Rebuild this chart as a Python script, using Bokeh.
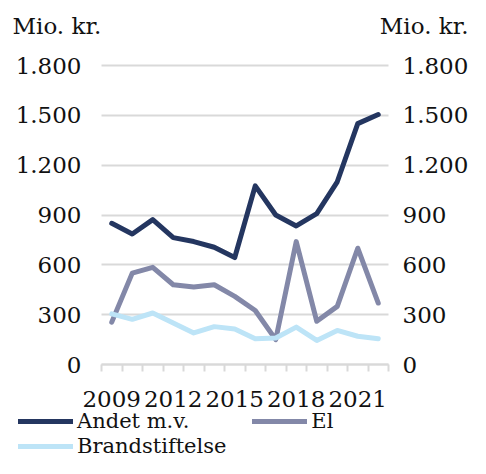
from bokeh.plotting import figure
from bokeh.models import (Range1d, LinearAxis, FixedTicker, Legend, LegendItem, Label, Grid)
from bokeh.embed import file_html
from bokeh.resources import INLINE

years = [2009, 2010, 2011, 2012, 2013, 2014, 2015, 2016, 2017, 2018, 2019, 2020, 2021, 2022]
andet = [850, 786, 872, 764, 740, 706, 644, 1075, 900, 834, 908, 1100, 1450, 1505]
el = [255, 550, 585, 480, 466, 480, 410, 325, 150, 740, 260, 350, 700, 370]
brand = [305, 272, 310, 250, 190, 228, 214, 155, 160, 225, 145, 205, 170, 155]

x_tick_years = [2009, 2012, 2015, 2018, 2021]
y_ticks = [0, 300, 600, 900, 1200, 1500, 1800]
y_tick_labels = ["0", "300", "600", "900", "1.200", "1.500", "1.800"]
unit_label = "Mio. kr."
series_names = ["Andet m.v.", "El", "Brandstiftelse"]
series_colors = ["#243660", "#8388a8", "#bde4f7"]

GRID = "#d9d9d9"
TXT = "#111111"
FONT = "DejaVu Serif"
FS = "23px"
LFS = "21px"

# ---- pixel plan of the canvas (layout only)
W, H = 470, 458
AREA_L, AREA_R = 101, 388      # horizontal extent of the category area
AREA_T, AREA_B = 65, 364       # pixel rows of y = max tick and y = 0

x_lo, x_hi = years[0] - 0.5, years[-1] + 0.5
ppx = (AREA_R - AREA_L) / (x_hi - x_lo)
y_lo, y_hi = y_ticks[0], y_ticks[-1]
ppy = (AREA_B - AREA_T) / (y_hi - y_lo)

x_range = Range1d(x_lo - AREA_L / ppx, x_hi + (W - AREA_R) / ppx)
y_range = Range1d(y_lo - (H - AREA_B) / ppy, y_hi + AREA_T / ppy)

p = figure(width=W, height=H, output_backend="svg", toolbar_location=None,
           x_range=x_range, y_range=y_range,
           x_axis_location=None, y_axis_location=None, title_location=None,
           min_border=0, min_border_left=0, min_border_right=0,
           min_border_top=0, min_border_bottom=0)
p.outline_line_color = None
for g in p.grid:
    g.visible = False

yticker = FixedTicker(ticks=y_ticks)
overrides = {t: l for t, l in zip(y_ticks, y_tick_labels)}

grid_kw = dict(dimension=1, ticker=yticker, grid_line_color=GRID, grid_line_width=2)
if "cross_bounds" in Grid.properties():
    grid_kw["cross_bounds"] = (x_lo, x_hi)
p.add_layout(Grid(**grid_kw), "center")


def y_axis(loc, standoff):
    ax = LinearAxis(fixed_location=loc, ticker=yticker, major_label_overrides=overrides,
                    axis_line_color=None, major_tick_line_color=None, minor_tick_line_color=None,
                    major_tick_out=0, major_tick_in=0, major_label_standoff=standoff,
                    major_label_text_font=FONT, major_label_text_font_size=FS,
                    major_label_text_color=TXT, bounds=(y_lo, y_hi))
    return ax

p.add_layout(y_axis(x_lo, 20), "left")
p.add_layout(y_axis(x_hi, 14), "right")

xa = LinearAxis(fixed_location=y_lo, bounds=(x_lo, x_hi),
                ticker=FixedTicker(ticks=x_tick_years,
                                   minor_ticks=[y - 0.5 for y in years] + [x_hi]),
                axis_line_color=GRID, axis_line_width=2,
                major_tick_line_color=None, major_tick_out=0, major_tick_in=0,
                minor_tick_line_color=GRID, minor_tick_line_width=2,
                minor_tick_out=7, minor_tick_in=0,
                major_label_text_font=FONT, major_label_text_font_size=FS,
                major_label_text_color=TXT, major_label_standoff=19)
p.add_layout(xa, "below")

rs = [p.line(years, vals, line_color=col, line_width=5, line_join="round", line_cap="round")
      for vals, col in zip([andet, el, brand], series_colors)]

# unit labels above both value axes
p.add_layout(Label(x=12, y=H - 25, x_units="screen", y_units="screen", text=unit_label,
                   text_font=FONT, text_font_size=FS, text_baseline="middle", text_color=TXT))
p.add_layout(Label(x=468, y=H - 25, x_units="screen", y_units="screen", text=unit_label,
                   text_font=FONT, text_font_size=FS, text_baseline="middle",
                   text_align="right", text_color=TXT))

common = dict(padding=0, margin=0, border_line_color=None, background_fill_alpha=0,
              label_text_font=FONT, label_text_color=TXT, label_text_font_size=LFS,
              glyph_width=55, glyph_height=20, label_standoff=4, label_height=20,
              orientation="horizontal")
leg_a = Legend(items=[LegendItem(label=series_names[0], renderers=[rs[0]]),
                      LegendItem(label=series_names[1], renderers=[rs[1]])],
               location=(18, 25), spacing=63, **common)
leg_b = Legend(items=[LegendItem(label=series_names[2], renderers=[rs[2]])],
               location=(18, 0), spacing=0, **common)
p.add_layout(leg_a, "center")
p.add_layout(leg_b, "center")

open("out.html", "w").write(file_html(p, INLINE))
